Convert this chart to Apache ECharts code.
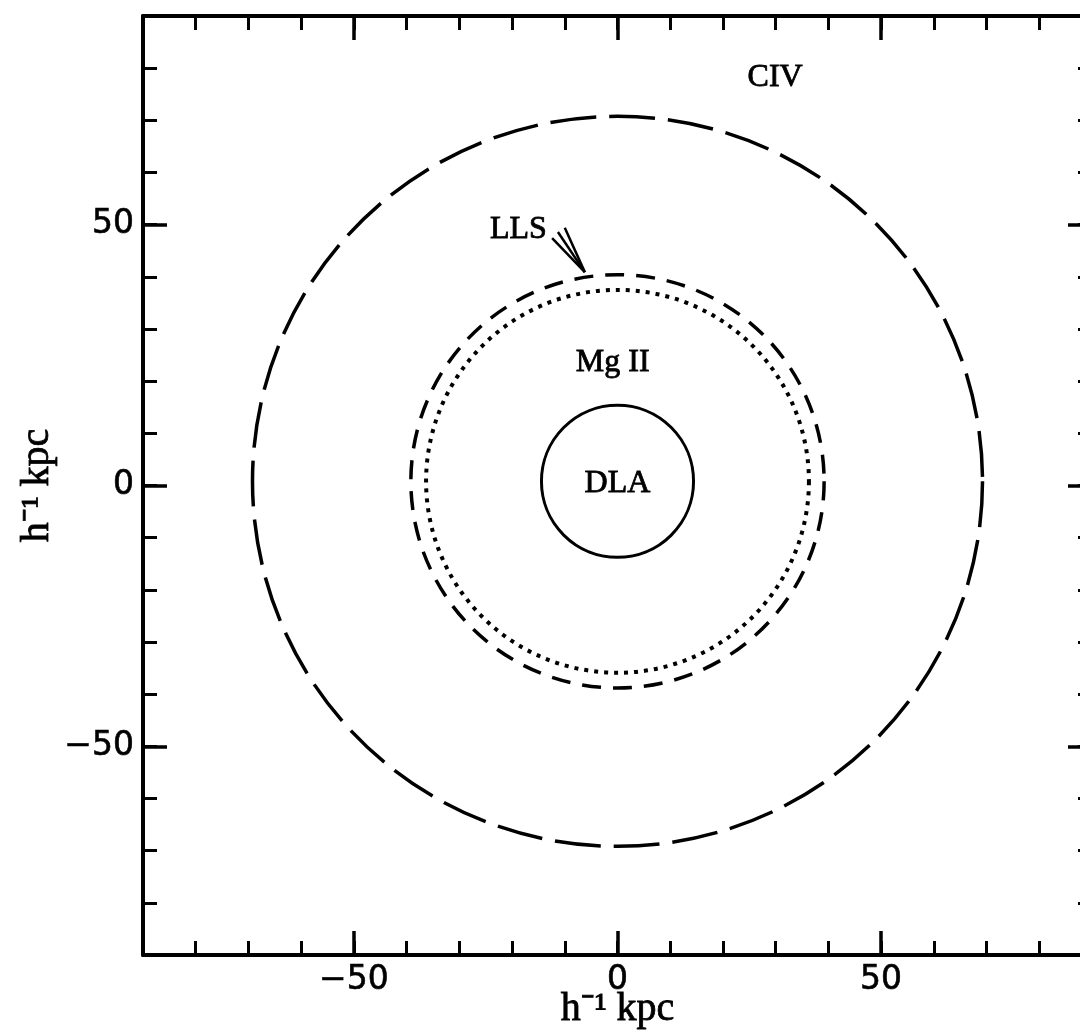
<!DOCTYPE html>
<html><head><meta charset="utf-8">
<script src="https://cdn.jsdelivr.net/npm/echarts@6/dist/echarts.min.js"></script>
<style>html,body{margin:0;padding:0;background:#fff;overflow:hidden;width:1080px;height:1031px}#c{width:1093px;height:1031px}</style>
</head><body><div id="c"></div>
<script>
// ---- data ----
const axisMin = -90, axisMax = 90;
const minorStep = 10;
const majorTicks = [-50, 0, 50];
const axisTitle = 'h⁻¹ kpc';
const circleNames = ['CIV', 'Mg II', 'Mg II inner', 'DLA'];
const circleCenterX = [0, 0, 0, 0];
const circleCenterY = [0.8, 0.8, 0.8, 0.8];
const circleRadius = [69.6, 39.4, 36.5, 14.5];
const labelTexts = ['CIV', 'LLS', 'Mg II', 'DLA'];
const labelX = [29.9, -18.8, -0.9, 0];
const labelY = [78.2, 49.1, 23.5, 0.3];
const arrowTip = [-6.2, 40.9];
const arrowTails = [[-12.4, 47.4], [-11.3, 48.6], [-10.0, 49.4]];

// ---- styles ----
const circleStyles = [
  { lineWidth: 3.5, lineDash: [46, 13] },
  { lineWidth: 3.5, lineDash: [19, 12] },
  { lineWidth: 4, lineDash: [4, 6] },
  { lineWidth: 3, lineDash: null }
];
const fmt = v => v === 0 ? '0' : (v < 0 ? '\u2212' + Math.abs(v) : String(v));
const tickFont = { fontFamily: 'DejaVu Sans', fontSize: 33, color: '#000', textBorderColor: '#000', textBorderWidth: 0.6 };
const nameFont = { fontFamily: 'Liberation Serif', fontSize: 40, color: '#000', textBorderColor: '#000', textBorderWidth: 0.8 };
const lineBlack = w => ({ color: '#000', width: w });

function minorAxis(pos, withLine) {
  return {
    type: 'value', position: pos, min: axisMin, max: axisMax, interval: minorStep,
    axisLine: { show: withLine, onZero: false, lineStyle: lineBlack(4) },
    axisTick: { show: true, inside: true, length: 14, lineStyle: lineBlack(3) },
    axisLabel: { show: false }, splitLine: { show: false }
  };
}
function majorAxis(pos, labels) {
  return {
    type: 'value', position: pos, min: axisMin, max: axisMax,
    axisLine: { show: false, onZero: false },
    axisTick: { show: true, inside: true, length: 24, customValues: majorTicks, lineStyle: lineBlack(3.5) },
    axisLabel: Object.assign({ show: labels, customValues: majorTicks, formatter: fmt, margin: 9 }, tickFont),
    splitLine: { show: false }
  };
}

const xAxes = [minorAxis('bottom', true), majorAxis('bottom', true), minorAxis('top', true), majorAxis('top', false)];
const yAxes = [minorAxis('left', true), majorAxis('left', true), minorAxis('right', true), majorAxis('right', false)];
Object.assign(xAxes[0], { name: axisTitle, nameLocation: 'middle', nameGap: 34, nameTextStyle: nameFont });
Object.assign(yAxes[0], { name: axisTitle, nameLocation: 'middle', nameGap: 86, nameTextStyle: nameFont });

const circleSeries = circleNames.map((nm, i) => ({
  type: 'custom', name: nm, xAxisIndex: 0, yAxisIndex: 0,
  data: [[circleCenterX[i], circleCenterY[i], circleRadius[i]]],
  renderItem: (params, api) => {
    const c = api.coord([api.value(0), api.value(1)]);
    const s = api.size([api.value(2), api.value(2)]);
    return {
      type: 'circle',
      shape: { cx: c[0], cy: c[1], r: (s[0] + s[1]) / 2 },
      style: { fill: 'none', stroke: '#000', lineWidth: circleStyles[i].lineWidth, lineDash: circleStyles[i].lineDash }
    };
  },
  silent: true, animation: false
}));

const textSeries = {
  type: 'custom', name: 'labels', xAxisIndex: 0, yAxisIndex: 0,
  data: labelTexts.map((t, i) => [labelX[i], labelY[i]]),
  renderItem: (params, api) => {
    const c = api.coord([api.value(0), api.value(1)]);
    return {
      type: 'text', x: c[0], y: c[1],
      style: { text: labelTexts[params.dataIndex], fill: '#000', stroke: '#000', lineWidth: 0.8,
               font: '32px "Liberation Serif"', align: 'center', verticalAlign: 'middle' }
    };
  },
  silent: true, animation: false
};

const arrowSeries = arrowTails.map((t, i) => ({
  type: 'line', name: 'LLS arrow ' + i, xAxisIndex: 0, yAxisIndex: 0,
  data: [t, arrowTip], symbol: 'none', lineStyle: { color: '#000', width: 2.5 },
  silent: true, animation: false
}));

const chart = echarts.init(document.getElementById('c'), null, { renderer: 'canvas' });
chart.setOption({
  backgroundColor: '#fff',
  animation: false,
  grid: { left: 143, right: 1, top: 16, bottom: 76, containLabel: false, outerBoundsMode: 'none' },
  xAxis: xAxes,
  yAxis: yAxes,
  series: circleSeries.concat(arrowSeries, [textSeries])
});
</script>
</body></html>
